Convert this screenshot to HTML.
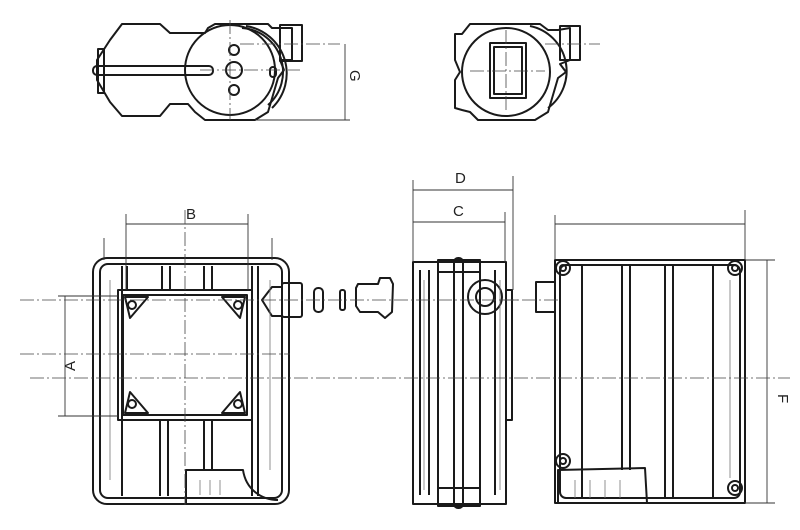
<!DOCTYPE html>
<html><head><meta charset="utf-8"><style>
html,body{margin:0;padding:0;background:#fff;width:800px;height:530px;overflow:hidden}
svg{display:block}
text{font-family:"Liberation Sans",sans-serif;font-size:15px;fill:#222}
</style></head><body>
<svg width="800" height="530" viewBox="0 0 800 530" xmlns="http://www.w3.org/2000/svg">
<g fill="none" stroke="#1a1a1a" stroke-width="2" stroke-linejoin="round">
<!-- TOP LEFT VIEW -->
<path d="M122,24 L160,24 L170,33 L205,33 L208,28 L215,24 L268,24 L272,28 L292,28 L292,60 L280,60 L284,70 L278,78 L268,112 L255,120 L205,120 L195,112 L188,104 L170,104 L160,116 L122,116 L110,102 L97,80 L97,60 L110,40 Z"/>
<circle cx="230" cy="70" r="45"/>
<path d="M242,28 A44,44 0 0 1 268,105" />
<path d="M246,26 A48,48 0 0 1 272,108"/>
<rect x="98" y="49" width="6" height="44"/>
<rect x="93" y="66" width="120" height="9" rx="4"/>
<rect x="280" y="25" width="22" height="36"/>
<circle cx="234" cy="50" r="5"/><circle cx="234" cy="70" r="8"/><circle cx="234" cy="90" r="5"/>
<rect x="270" y="67" width="6" height="10" rx="3"/>
<!-- TOP RIGHT VIEW -->
<path d="M470,24 L540,24 L548,30 L558,30 L570,28 L570,60 L560,64 L566,72 L558,78 L548,112 L535,120 L478,120 L470,112 L462,110 L455,108 L455,80 L460,72 L455,60 L455,34 L462,34 Z"/>
<circle cx="506" cy="72" r="44"/>
<path d="M530,26 A46,46 0 0 1 548,108"/>
<rect x="490" y="43" width="36" height="55"/><rect x="494" y="47" width="28" height="47"/>
<rect x="560" y="26" width="20" height="34"/>
<!-- FRONT VIEW -->
<rect x="93" y="258" width="196" height="246" rx="14"/>
<rect x="100" y="264" width="182" height="234" rx="8"/>
<line x1="122" y1="266" x2="122" y2="496"/><line x1="127" y1="266" x2="127" y2="290"/><line x1="252" y1="266" x2="252" y2="496"/><line x1="258" y1="266" x2="258" y2="496"/>
<rect x="118" y="290" width="134" height="130"/><rect x="123" y="295" width="124" height="120"/>
<path d="M125,297 L148,297 L130,318 Z M245,297 L222,297 L240,318 Z M125,413 L148,413 L130,392 Z M245,413 L222,413 L240,392 Z"/>
<circle cx="132" cy="305" r="4"/><circle cx="238" cy="305" r="4"/><circle cx="132" cy="404" r="4"/><circle cx="238" cy="404" r="4"/>
<line x1="162" y1="266" x2="162" y2="290"/><line x1="170" y1="266" x2="170" y2="290"/>
<line x1="204" y1="266" x2="204" y2="290"/><line x1="212" y1="266" x2="212" y2="290"/>
<line x1="160" y1="420" x2="160" y2="496"/><line x1="168" y1="420" x2="168" y2="496"/>
<line x1="204" y1="420" x2="204" y2="470"/><line x1="212" y1="420" x2="212" y2="470"/>
<path d="M186,504 L186,470 L243,470 C246,490 262,500 278,500"/>
<path d="M262,300 L272,287 L282,287 L282,316 L272,316 Z"/>
<rect x="282" y="283" width="20" height="34" rx="2"/>
<rect x="314" y="288" width="9" height="24" rx="4"/>
<rect x="340" y="290" width="5" height="20" rx="2"/>
<path d="M358,284 L378,284 L380,278 L390,278 L393,284 L392,312 L385,318 L378,312 L360,312 L356,306 L356,288 Z"/>
<!-- SIDE VIEW -->
<rect x="413" y="262" width="93" height="242"/>
<rect x="438" y="260" width="42" height="246"/>
<rect x="454" y="258" width="9" height="250" rx="4"/>
<line x1="420" y1="270" x2="420" y2="495"/><line x1="429" y1="270" x2="429" y2="495"/>
<line x1="495" y1="270" x2="495" y2="495"/>
<circle cx="485" cy="297" r="17"/><circle cx="485" cy="297" r="9"/>
<rect x="506" y="290" width="6" height="130"/>
<line x1="438" y1="272" x2="480" y2="272"/><line x1="438" y1="488" x2="480" y2="488"/>
<!-- RIGHT VIEW -->
<rect x="555" y="260" width="190" height="243"/>
<rect x="560" y="265" width="180" height="233" rx="6"/>
<line x1="582" y1="265" x2="582" y2="498"/>
<line x1="622" y1="265" x2="622" y2="470"/><line x1="630" y1="265" x2="630" y2="470"/>
<line x1="665" y1="265" x2="665" y2="498"/><line x1="673" y1="265" x2="673" y2="498"/>
<line x1="713" y1="265" x2="713" y2="498"/>
<circle cx="563" cy="268" r="7"/><circle cx="735" cy="268" r="7"/><circle cx="563" cy="461" r="7"/><circle cx="735" cy="488" r="7"/>
<circle cx="563" cy="268" r="3"/><circle cx="735" cy="268" r="3"/><circle cx="563" cy="461" r="3"/><circle cx="735" cy="488" r="3"/>
<path d="M558,503 L558,470 L645,468 L647,503"/>
<rect x="536" y="282" width="19" height="30"/>
</g>
<!-- light hatching -->
<g stroke="#777" stroke-width="0.8">
<line x1="110" y1="280" x2="110" y2="480"/><line x1="270" y1="280" x2="270" y2="470"/>
<line x1="200" y1="480" x2="200" y2="495"/><line x1="210" y1="480" x2="210" y2="495"/><line x1="220" y1="480" x2="220" y2="495"/>
<line x1="424" y1="280" x2="424" y2="490"/><line x1="500" y1="280" x2="500" y2="490"/>
<line x1="575" y1="480" x2="575" y2="498"/><line x1="590" y1="480" x2="590" y2="498"/><line x1="605" y1="480" x2="605" y2="498"/><line x1="620" y1="480" x2="620" y2="498"/>
<line x1="730" y1="280" x2="730" y2="478"/>
</g>
<!-- dimension & centre lines -->
<g fill="none" stroke="#333" stroke-width="0.9">
<line x1="126" y1="224" x2="248" y2="224"/><line x1="126" y1="214" x2="126" y2="290"/><line x1="248" y1="214" x2="248" y2="290"/>
<line x1="104" y1="238" x2="104" y2="260"/><line x1="272" y1="238" x2="272" y2="260"/>
<line x1="65" y1="296" x2="65" y2="416"/><line x1="58" y1="296" x2="118" y2="296"/><line x1="58" y1="416" x2="118" y2="416"/>
<line x1="413" y1="190" x2="513" y2="190"/><line x1="413" y1="222" x2="505" y2="222"/>
<line x1="413" y1="180" x2="413" y2="262"/><line x1="513" y1="176" x2="513" y2="290"/><line x1="505" y1="212" x2="505" y2="262"/>
<line x1="555" y1="224" x2="745" y2="224"/><line x1="555" y1="215" x2="555" y2="260"/><line x1="745" y1="210" x2="745" y2="260"/>
<line x1="767" y1="260" x2="767" y2="503"/><line x1="745" y1="260" x2="775" y2="260"/><line x1="745" y1="503" x2="775" y2="503"/>
<line x1="345" y1="44" x2="345" y2="120"/><line x1="255" y1="120" x2="350" y2="120"/>
</g>
<g fill="none" stroke="#444" stroke-width="0.8" stroke-dasharray="14,3,2,3">
<line x1="20" y1="300" x2="520" y2="300"/>
<line x1="20" y1="354" x2="290" y2="354"/>
<line x1="30" y1="378" x2="790" y2="378"/>
<line x1="185" y1="210" x2="185" y2="505"/>
<line x1="500" y1="300" x2="560" y2="300"/>
<line x1="230" y1="20" x2="230" y2="120"/><line x1="200" y1="70" x2="300" y2="70"/>
<line x1="240" y1="44" x2="340" y2="44"/>
<line x1="506" y1="30" x2="506" y2="110"/><line x1="470" y1="71" x2="545" y2="71"/>
<line x1="545" y1="44" x2="600" y2="44"/>
</g>
<text x="186" y="219">B</text>
<text x="455" y="183">D</text>
<text x="453" y="216">C</text>
<text x="0" y="0" transform="translate(75,371) rotate(-90)">A</text>
<text x="0" y="0" transform="translate(778,394) rotate(90)">F</text>
<text x="0" y="0" transform="translate(350,70) rotate(90)">G</text>
</svg>
</body></html>
